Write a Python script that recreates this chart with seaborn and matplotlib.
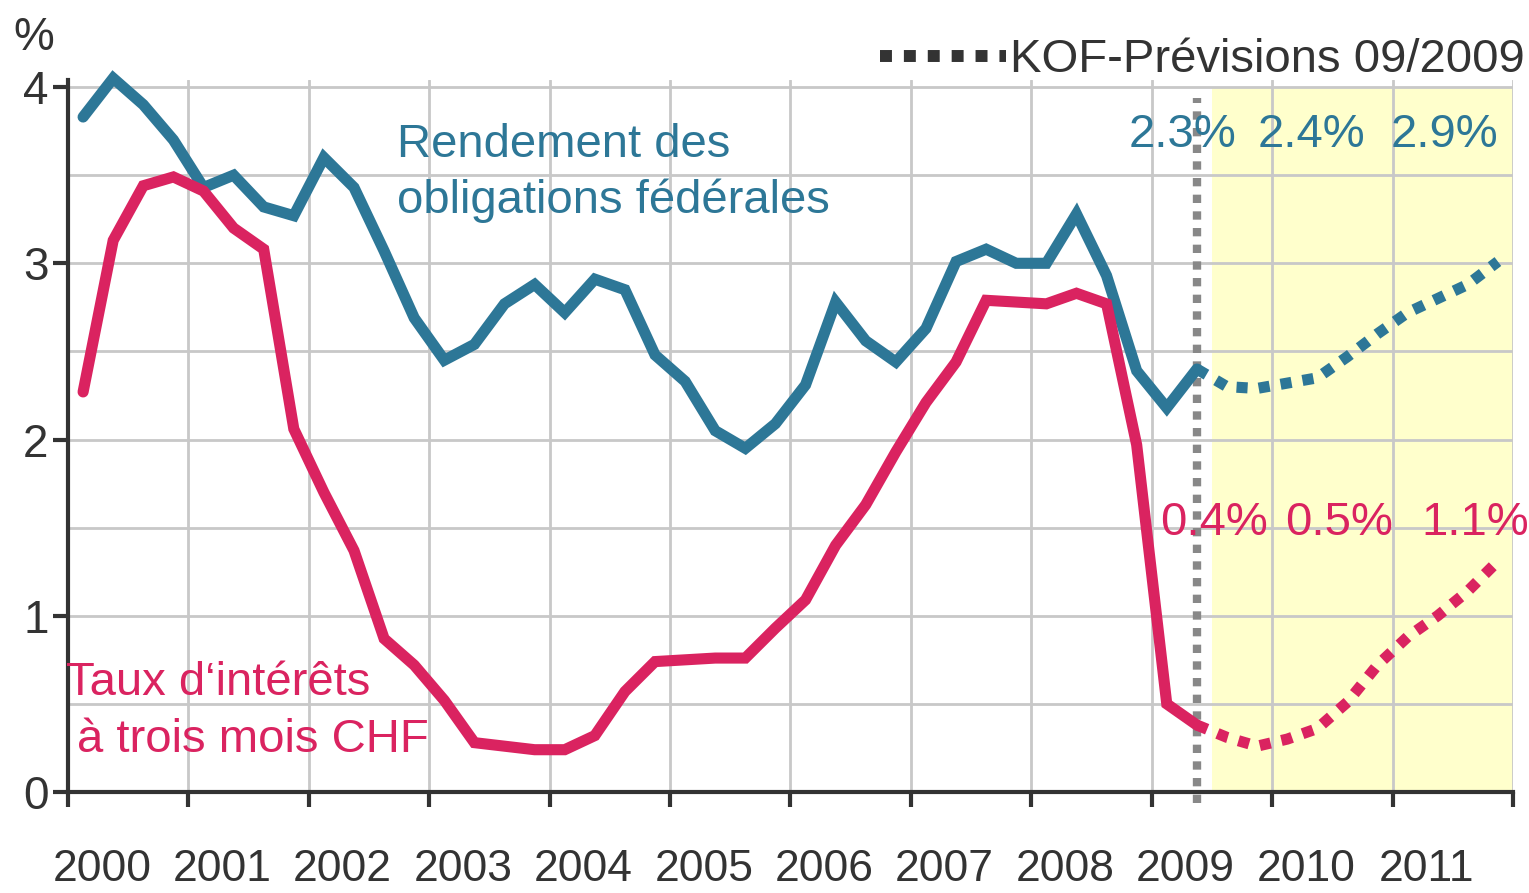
import numpy as np
import pandas as pd
import matplotlib
matplotlib.use('Agg')
import matplotlib.pyplot as plt
from matplotlib.lines import Line2D
from matplotlib.ticker import FixedLocator, MultipleLocator
import seaborn as sns

# quarterly history, 2000 Q1 - 2009 Q2
hist_quarters = pd.period_range('2000Q1', '2009Q2', freq='Q')
bond_yield = [3.83, 4.05, 3.90, 3.70,
              3.43, 3.50, 3.32, 3.27,
              3.60, 3.43, 3.07, 2.69,
              2.45, 2.54, 2.77, 2.88,
              2.72, 2.91, 2.85, 2.48,
              2.33, 2.05, 1.95, 2.09,
              2.31, 2.78, 2.56, 2.44,
              2.63, 3.01, 3.08, 3.00,
              3.00, 3.28, 2.93, 2.39,
              2.18, 2.40]
libor_3m = [2.27, 3.13, 3.44, 3.49,
            3.41, 3.20, 3.08, 2.06,
            1.70, 1.37, 0.87, 0.72,
            0.52, 0.28, 0.26, 0.24,
            0.24, 0.32, 0.57, 0.74,
            0.75, 0.76, 0.76, 0.93,
            1.09, 1.40, 1.63, 1.93,
            2.21, 2.44, 2.79, 2.78,
            2.77, 2.83, 2.77, 1.97,
            0.50, 0.38]

# KOF forecast 09/2009, starting at the last observed quarter
fc_quarters = pd.period_range('2009Q2', '2011Q4', freq='Q')
bond_fc = [2.40, 2.30, 2.29, 2.32, 2.35, 2.47, 2.60, 2.72, 2.80, 2.88, 3.01]
libor_fc = [0.38, 0.31, 0.26, 0.30, 0.36, 0.51, 0.72, 0.88, 1.00, 1.14, 1.31]

# annual forecast labels
fc_years = [2009, 2010, 2011]
bond_fc_annual = ['2.3%', '2.4%', '2.9%']
libor_fc_annual = ['0.4%', '0.5%', '1.1%']

years = list(range(2000, 2013))
year_labels = [str(y) for y in range(2000, 2012)]
y_ticks = [0, 1, 2, 3, 4]

BLUE = '#2d7797'
RED = '#da2360'
DARK = '#333333'
GRID = '#c8c8c8'
YELLOW = '#ffffcc'


def to_x(periods):
    # mid-quarter position in decimal years
    return periods.year + (periods.quarter - 0.5) / 4


hist = pd.DataFrame({'x': to_x(hist_quarters), 'bond': bond_yield, 'libor': libor_3m})
fc = pd.DataFrame({'x': to_x(fc_quarters), 'bond': bond_fc, 'libor': libor_fc})

sns.set_style('white')
plt.rcParams['font.family'] = ['Liberation Sans', 'DejaVu Sans']

fig = plt.figure(figsize=(15.29, 8.93), dpi=100)
ax = fig.add_axes([0.0445, 0.1131, 0.945, 0.7973])

# forecast period shading
ax.axvspan(2009.5, 2012, ymin=0, ymax=4 / 4.04, color=YELLOW, lw=0, zorder=0.2)

lw = 8
sns.lineplot(data=hist, x='x', y='bond', ax=ax, color=BLUE, lw=lw,
             solid_joinstyle='miter', clip_on=False, zorder=3)
sns.lineplot(data=hist, x='x', y='libor', ax=ax, color=RED, lw=lw,
             solid_joinstyle='miter', clip_on=False, zorder=3)
sns.lineplot(data=fc, x='x', y='bond', ax=ax, color=BLUE, lw=lw,
             linestyle=(0, (1, 1)), clip_on=False, zorder=3)
sns.lineplot(data=fc, x='x', y='libor', ax=ax, color=RED, lw=lw,
             linestyle=(0, (1, 1)), clip_on=False, zorder=3)

# marker for the start of the forecast
ax.axvline(hist['x'].iloc[-1], ymin=-0.016, ymax=0.975, color='#888888', lw=6,
           linestyle=(0, (1, 1)), clip_on=False, zorder=2)

ax.set_xlim(2000, 2012)
ax.set_ylim(0, 4.04)

# axes styling
ax.xaxis.set_major_locator(FixedLocator(years))
ax.xaxis.set_minor_locator(FixedLocator([y + 0.28 for y in range(2000, 2012)]))
ax.set_xticklabels([], minor=False)
ax.set_xticklabels(year_labels, minor=True)
ax.tick_params(axis='x', which='major', length=11, width=3, color=DARK, direction='out', bottom=True)
ax.tick_params(axis='x', which='minor', length=0, pad=41, labelsize=32, labelcolor=DARK, bottom=True)

ax.set_yticks(y_ticks)
ax.yaxis.set_minor_locator(MultipleLocator(0.5))
ax.tick_params(axis='y', which='major', length=11, width=3, color=DARK, direction='out',
               pad=3, labelsize=33, labelcolor=DARK, left=True)
ax.tick_params(axis='y', which='minor', length=0)

ax.set_axisbelow(True)
ax.grid(axis='x', which='major', color=GRID, lw=2)
ax.grid(axis='y', which='both', color=GRID, lw=2)

for s in ['top', 'right']:
    ax.spines[s].set_visible(False)
for s in ['left', 'bottom']:
    ax.spines[s].set_color(DARK)
    ax.spines[s].set_linewidth(3)
    ax.spines[s].set_zorder(4)

ax.set_xlabel('')
ax.set_ylabel('')

# series labels
ax.text(2002.734, 3.603, 'Rendement des', color=BLUE, fontsize=34, va='baseline', ha='left')
ax.text(2002.734, 3.285, 'obligations fédérales', color=BLUE, fontsize=34, va='baseline', ha='left')
ax.text(1999.98, 0.550, 'Taux d\u2018intérêts', color=RED, fontsize=34, va='baseline', ha='left',
        clip_on=False, zorder=5)
ax.text(2000.075, 0.227, 'à trois mois CHF', color=RED, fontsize=34, va='baseline', ha='left',
        zorder=5)

# annual forecast values
bond_label_x = [2008.81, 2009.88, 2010.98]
libor_label_x = [2009.07, 2010.11, 2011.24]
for xpos, lab in zip(bond_label_x, bond_fc_annual):
    ax.text(xpos, 3.66, lab, color=BLUE, fontsize=34, va='baseline', ha='left', zorder=5)
for xpos, lab in zip(libor_label_x, libor_fc_annual):
    ax.text(xpos, 1.458, lab, color=RED, fontsize=34, va='baseline', ha='left',
            clip_on=False, zorder=5)

# legend for the dotted forecast lines
handle = Line2D([], [], color=DARK, lw=8.6, linestyle=(0, (1, 1)))
ax.legend([handle], ['KOF-Prévisions 09/2009'], loc='lower right',
          bbox_to_anchor=(0.9974, 0.908), bbox_transform=fig.transFigure,
          frameon=False, fontsize=34, handlelength=2.65, handletextpad=0.1,
          borderpad=0, borderaxespad=0, labelcolor=DARK)

fig.text(13 / 1529, 1 - 50 / 893, '%', fontsize=33, color=DARK, va='baseline', ha='left')

fig.savefig('out.png', dpi=100)
